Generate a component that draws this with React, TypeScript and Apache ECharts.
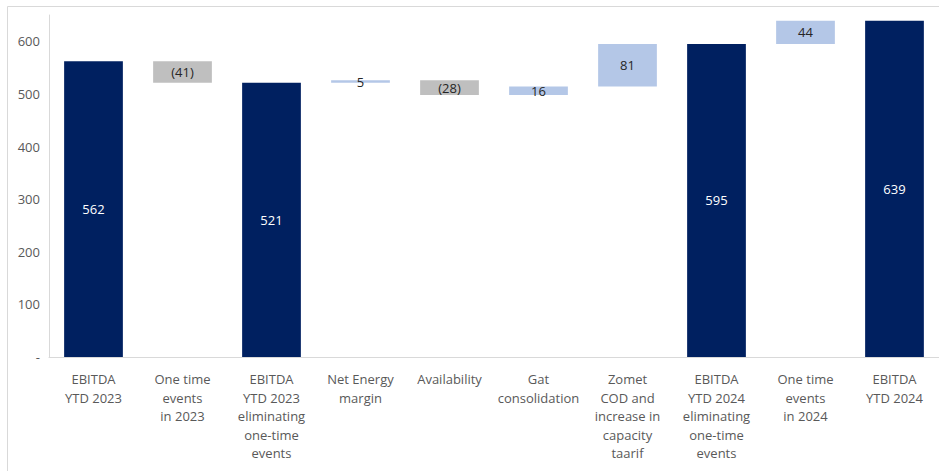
import React, { useEffect, useRef } from "react";
import * as echarts from "echarts";

// EBITDA bridge, YTD 2023 -> YTD 2024
const categories = [
  "EBITDA\nYTD 2023",
  "One time\nevents\nin 2023",
  "EBITDA\nYTD 2023\neliminating\none-time\nevents",
  "Net Energy\nmargin",
  "Availability",
  "Gat\nconsolidation",
  "Zomet\nCOD and\nincrease in\ncapacity\ntaarif",
  "EBITDA\nYTD 2024\neliminating\none-time\nevents",
  "One time\nevents\nin 2024",
  "EBITDA\nYTD 2024",
];

// totals are absolute values, deltas are changes from the running total
const kinds = ["total", "delta", "total", "delta", "delta", "delta", "delta", "total", "delta", "total"];
const values = [562, -41, 521, 5, -28, 16, 81, 595, 44, 639];

const yTicks = [0, 100, 200, 300, 400, 500, 600];

const NAVY = "#002060";
const UP = "#B4C7E7";
const DOWN = "#BFBFBF";
const FONT = "'Open Sans', 'Noto Sans', sans-serif";

export default function App() {
  const ref = useRef<HTMLDivElement>(null);

  useEffect(() => {
    if (!ref.current) return;
    const chart = echarts.init(ref.current, null, { renderer: "svg" });

    let running = 0;
    const baseData: number[] = [];
    const barData: any[] = [];
    values.forEach((v, i) => {
      if (kinds[i] === "total") {
        running = v;
        baseData.push(0);
        barData.push({
          value: v,
          raw: v,
          itemStyle: { color: NAVY },
          label: { color: "#ffffff" },
        });
      } else {
        const low = v < 0 ? running + v : running;
        baseData.push(low);
        barData.push({
          value: Math.abs(v),
          raw: v,
          itemStyle: { color: v < 0 ? DOWN : UP },
          label: { color: "#262626" },
        });
        running += v;
      }
    });

    chart.setOption({
      animation: false,
      textStyle: { fontFamily: FONT },
      graphic: [
        {
          type: "rect",
          shape: { x: 7.5, y: 6.5, width: 1000, height: 1000 },
          style: { fill: "none", stroke: "#d9d9d9", lineWidth: 1 },
          silent: true,
        },
      ],
      grid: { left: 49, right: 0, top: 15, bottom: 114, containLabel: false },
      xAxis: {
        type: "category",
        data: categories,
        axisLine: { show: true, lineStyle: { color: "#d9d9d9", width: 1 } },
        axisTick: { show: false },
        axisLabel: {
          interval: 0,
          margin: 13,
          color: "#595959",
          fontSize: 13,
          lineHeight: 18.5,
          fontFamily: FONT,
          align: "center",
        },
      },
      yAxis: {
        type: "value",
        min: 0,
        max: 650,
        interval: 100,
        splitLine: { show: false },
        axisLine: { show: true, lineStyle: { color: "#d9d9d9", width: 1 } },
        axisTick: { show: false },
        axisLabel: {
          margin: 9,
          color: "#595959",
          fontSize: 13,
          fontFamily: FONT,
          formatter: (v: number) =>
            yTicks.indexOf(v) < 0 ? "" : v === 0 ? "-" : String(v),
        },
      },
      series: [
        {
          type: "bar",
          stack: "bridge",
          data: baseData,
          barWidth: "66%",
          itemStyle: { color: "transparent" },
          silent: true,
          label: { show: false },
        },
        {
          type: "bar",
          stack: "bridge",
          data: barData,
          barWidth: "66%",
          label: {
            show: true,
            position: "inside",
            fontSize: 13,
            fontFamily: FONT,
            formatter: (p: any) => {
              const r = p.data.raw as number;
              return r < 0 ? `(${Math.abs(r)})` : String(r);
            },
          },
        },
      ],
    });

    return () => chart.dispose();
  }, []);

  return (
    <div
      ref={ref}
      style={{ position: "fixed", left: 0, top: 0, width: 939, height: 471, background: "#fff" }}
    />
  );
}
